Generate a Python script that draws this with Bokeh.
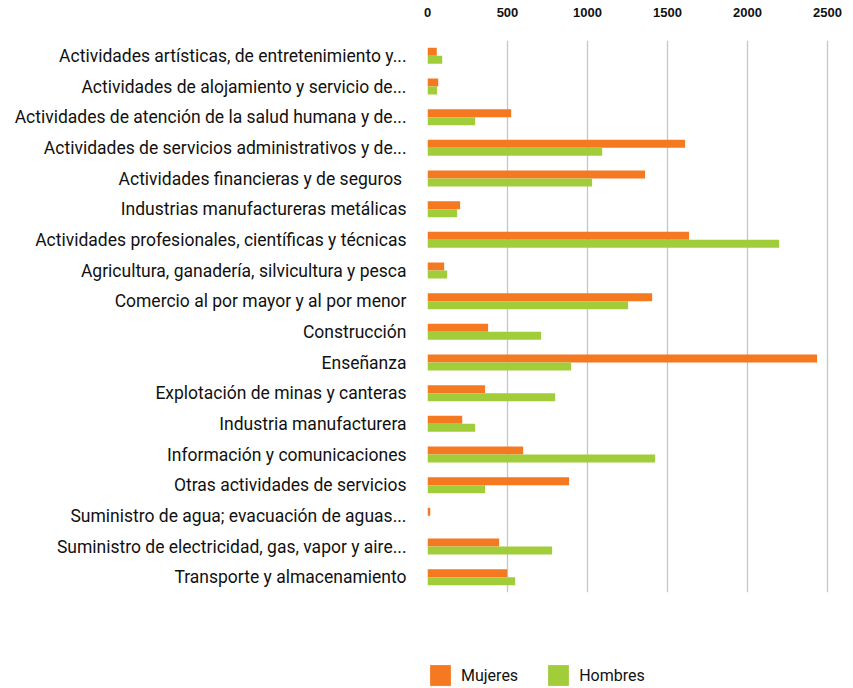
from bokeh.plotting import figure
from bokeh.models import ColumnDataSource, FactorRange, Range1d, FixedTicker, Legend, LegendItem
from bokeh.layouts import column
from bokeh.transform import dodge
from bokeh.embed import file_html
from bokeh.resources import INLINE

categories = [
    "Actividades artísticas, de entretenimiento y...",
    "Actividades de alojamiento y servicio de...",
    "Actividades de atención de la salud humana y de...",
    "Actividades de servicios administrativos y de...",
    "Actividades financieras  y de seguros",
    "Industrias manufactureras metálicas",
    "Actividades profesionales, científicas y técnicas",
    "Agricultura, ganadería, silvicultura y pesca",
    "Comercio al por mayor y al por menor",
    "Construcción",
    "Enseñanza",
    "Explotación de minas y canteras",
    "Industria manufacturera",
    "Información y comunicaciones",
    "Otras actividades de servicios",
    "Suministro de agua; evacuación de aguas...",
    "Suministro de electricidad, gas, vapor y aire...",
    "Transporte y almacenamiento",
]
mujeres = [58, 67, 523, 1610, 1360, 204, 1635, 104, 1404, 379, 2435, 360, 217, 598, 885, 17, 448, 498]
hombres = [92, 60, 298, 1092, 1029, 185, 2198, 123, 1254, 710, 898, 798, 298, 1423, 360, 0, 779, 548]
x_ticks = [0, 500, 1000, 1500, 2000, 2500]

ORANGE = "#F47920"
GREEN = "#A2CD3A"
FONT = "Roboto"
TEXT = "#111111"

src = ColumnDataSource(dict(cat=categories, m=mujeres, h=hombres))

p = figure(width=853, height=594, output_backend="svg", toolbar_location=None,
           y_range=FactorRange(factors=list(reversed(categories)), range_padding=0),
           x_range=Range1d(0, 2600), x_axis_location="above",
           min_border_left=427, min_border_right=10, min_border_top=40, min_border_bottom=2)
p.outline_line_color = None

rm = p.hbar(y=dodge("cat", 0.13, range=p.y_range), right="m", left=0, height=0.26,
            source=src, fill_color=ORANGE, line_color=None)
rh = p.hbar(y=dodge("cat", -0.13, range=p.y_range), right="h", left=0, height=0.26,
            source=src, fill_color=GREEN, line_color=None)

p.ygrid.grid_line_color = None
p.xgrid.ticker = FixedTicker(ticks=x_ticks)
p.xgrid.grid_line_color = "#C6C6C6"
p.xgrid.grid_line_width = 1.3

xa = p.xaxis[0]
xa.ticker = FixedTicker(ticks=x_ticks)
xa.axis_line_color = None
xa.major_tick_line_color = None
xa.minor_tick_line_color = None
xa.major_label_text_font = "Liberation Sans"
xa.major_label_text_font_style = "bold"
xa.major_label_text_font_size = "13px"
xa.major_label_text_color = TEXT
xa.major_label_standoff = 18

ya = p.yaxis[0]
ya.axis_line_color = None
ya.major_tick_line_color = None
ya.minor_tick_line_color = None
ya.major_label_text_font = FONT
ya.major_label_text_font_size = "17.5px"
ya.major_label_text_color = TEXT
ya.major_label_standoff = 15

# legend strip below the chart
lf = figure(width=853, height=94, output_backend="svg", toolbar_location=None,
            x_range=Range1d(0, 1), y_range=Range1d(0, 1),
            min_border_left=426, min_border_right=0, min_border_top=0, min_border_bottom=0)
lf.outline_line_color = None
lf.axis.visible = False
lf.grid.visible = False
lm = lf.rect(x=[-5], y=[-5], width=0.01, height=0.01, fill_color=ORANGE, line_color=None)
lh = lf.rect(x=[-5], y=[-5], width=0.01, height=0.01, fill_color=GREEN, line_color=None)
legend = Legend(items=[LegendItem(label="Mujeres", renderers=[lm]),
                       LegendItem(label="Hombres", renderers=[lh])],
                orientation="horizontal", location="bottom_left",
                glyph_width=26, glyph_height=26, label_standoff=8, spacing=27,
                padding=0, margin=0, border_line_color=None, background_fill_alpha=0,
                label_text_font=FONT, label_text_font_size="16px", label_text_color=TEXT)
lf.add_layout(legend)

lay = column(p, lf, spacing=0)
open("out.html", "w").write(file_html(lay, INLINE))
